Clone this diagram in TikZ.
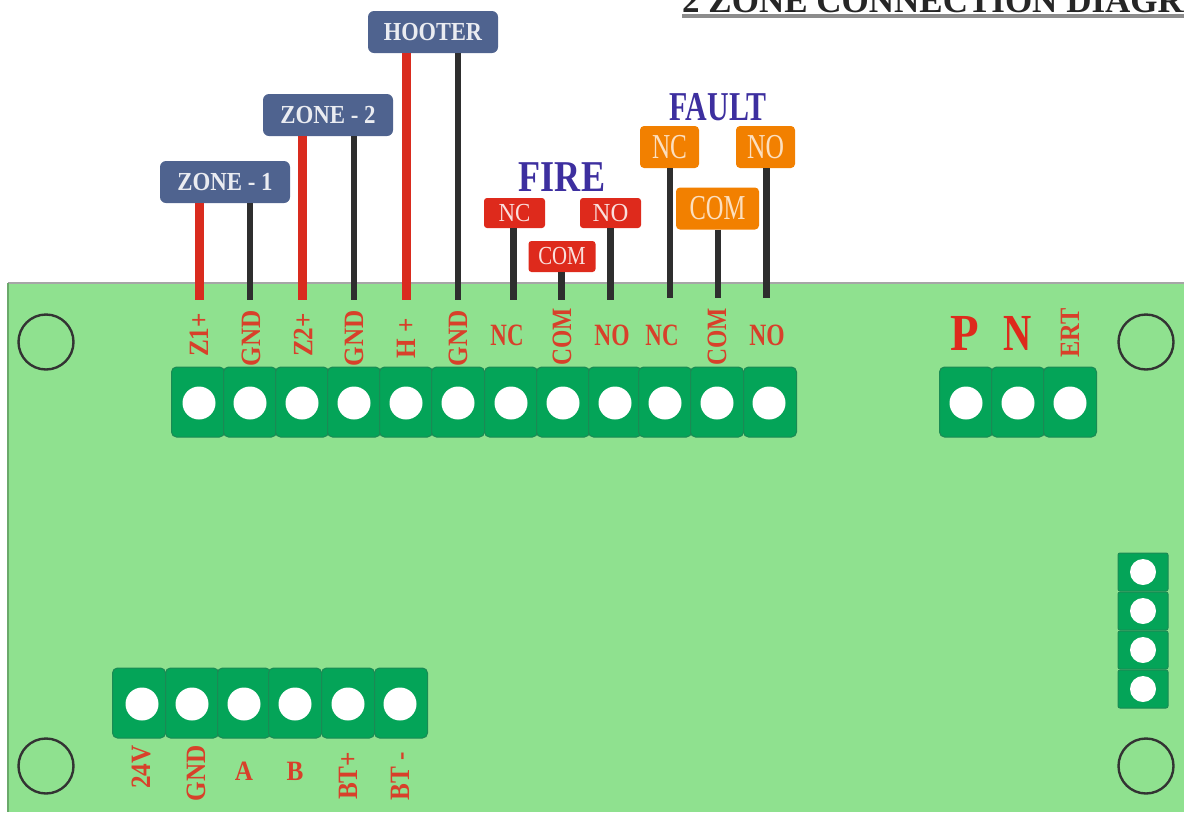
\documentclass[tikz,border=0pt]{standalone}
\usepackage{graphicx}
\usepackage{fontspec}
\setmainfont{Liberation Serif}
\definecolor{board}{HTML}{8FE18F}
\definecolor{termg}{HTML}{04A458}
\definecolor{termd}{HTML}{1B8A54}
\definecolor{slate}{HTML}{4F638F}
\definecolor{lblred}{HTML}{DE2A1C}
\definecolor{orng}{HTML}{F28000}
\definecolor{hdr}{HTML}{3D2F9F}
\definecolor{wred}{HTML}{D92B1E}
\definecolor{wdark}{HTML}{2E2E2E}
\definecolor{pcbtxt}{HTML}{D8402A}
\newcommand{\fsz}[1]{\fontsize{#1}{#1}\selectfont}
\newcommand{\sx}[2]{\scalebox{#1}[1]{#2}}
\tikzset{
  cellbox/.style={fill=termg,draw=termd,line width=1pt,rounded corners=5pt,minimum width=53pt,minimum height=70pt,inner sep=0pt},
  sidecell/.style={fill=termg,draw=termd,line width=1pt,rounded corners=2pt,minimum width=50pt,minimum height=38pt,inner sep=0pt},
  holea/.style={circle,fill=white,draw=none,minimum size=33pt,inner sep=0pt},
  holeb/.style={circle,fill=white,draw=none,minimum size=26pt,inner sep=0pt},
  mount/.style={circle,draw=black!80,line width=2.4pt,fill=none,minimum size=55pt,inner sep=0pt},
  bluelbl/.style={fill=slate,rounded corners=6pt,minimum width=130pt,minimum height=42pt,inner sep=0pt,text=white!88!slate,font=\bfseries\fsz{26}},
  redlbl/.style={fill=lblred,rounded corners=3pt,minimum width=61pt,minimum height=30pt,inner sep=0pt,text=white!85!lblred,font=\fsz{26}},
  orlbl/.style={fill=orng,rounded corners=4pt,minimum height=42pt,inner sep=0pt,text=white!75!orng,font=\fsz{35}},
  hdrtxt/.style={text=hdr,font=\bfseries\fsz{44},inner sep=0pt},
  pcb/.style={text=pcbtxt,inner sep=0pt,font=\bfseries\fsz{28}},
  pcbr/.style={pcb,rotate=90},
  wirered/.style={draw=wred,line width=9pt},
  wireblack/.style={draw=wdark,line width=6.5pt}
}
\begin{document}
\begin{tikzpicture}[x=1pt,y=-1pt]
\useasboundingbox (0,0) rectangle (1184,812);
\clip (0,0) rectangle (1184,812);
% board
\path[fill=board] (8,283) rectangle (1184,812);
\draw[black!35,line width=2pt] (8,283) -- (1184,283);
\draw[board!75!black,line width=1.5pt] (8,283) -- (8,812);
% title
\node[anchor=base west,inner sep=0pt,font=\bfseries\fsz{35},text=black!85] (title) at (682,12.5) {2 ZONE CONNECTION DIAGRAM};
\coordinate (ula) at (682,16);
\coordinate (ulb) at (1184,16);
\draw[black!45,line width=4pt] (ula) -- (ulb);
% mounting holes
\node[mount] (m1) at (46,342) {};
\node[mount] (m2) at (1146,342) {};
\node[mount] (m3) at (46,766) {};
\node[mount] (m4) at (1146,766) {};
% terminals, top row
\foreach \n/\x in {a/198,b/250,c/302,d/354,e/406,f/458,g/511,h/563,i/615,j/665,k/717,l/770}{
  \node[cellbox] (t\n) at (\x,402) {};
}
\foreach \n/\x in {a/199,b/250,c/302,d/354,e/406,f/458,g/511,h/563,i/615,j/665,k/717,l/769}{
  \node[holea] (h\n) at (\x,403) {};
}
% power
\foreach \n/\x in {p/966,q/1018,r/1070}{
  \node[cellbox] (t\n) at (\x,402) {};
  \node[holea] (h\n) at (\x,403) {};
}
% bottom row
\foreach \n/\x in {s/139,t/192,u/244,v/295,w/348,y/401}{
  \node[cellbox] (t\n) at (\x,703) {};
}
\foreach \n/\x in {s/142,t/192,u/244,v/295,w/348,y/400}{
  \node[holea] (h\n) at (\x,704) {};
}
% side
\foreach \n/\y in {1/572,2/611,3/650,4/689}{
  \node[sidecell] (sc\n) at (1143,\y) {};
  \node[holeb] (sh\n) at (1143,\y) {};
}
% labels
\node[bluelbl] (zone1) at (225,182) {\sx{0.88}{ZONE - 1}};
\node[bluelbl] (zone2) at (328,115) {\sx{0.88}{ZONE - 2}};
\node[bluelbl] (hooter) at (433,32) {\sx{0.86}{HOOTER}};
\node[hdrtxt] (fire) at (562,177) {\sx{0.82}{FIRE}};
\node[hdrtxt,font=\bfseries\fsz{41}] (fault) at (718,107) {\sx{0.73}{FAULT}};
\node[redlbl] (fnc) at (514.5,213) {\sx{0.88}{NC}};
\node[redlbl,minimum width=67pt,minimum height=31pt] (fcom) at (562,256.5) {\sx{0.8}{COM}};
\node[redlbl] (fno) at (610.5,213) {\sx{0.95}{NO}};
\node[orlbl,minimum width=59pt] (xnc) at (669.5,147) {\sx{0.72}{NC}};
\node[orlbl,minimum width=59pt] (xno) at (765.5,147) {\sx{0.73}{NO}};
\node[orlbl,minimum width=83pt] (xcom) at (717.5,208.5) {\sx{0.7}{COM}};
% wire ends
\coordinate (w1) at (199,300);
\coordinate (w2) at (250,300);
\coordinate (w3) at (302,300);
\coordinate (w4) at (354,300);
\coordinate (w5) at (406,300);
\coordinate (w6) at (458,300);
\coordinate (w7) at (513.5,300);
\coordinate (w8) at (561.5,300);
\coordinate (w9) at (610.5,300);
\coordinate (w10) at (670,298);
\coordinate (w11) at (718,298);
\coordinate (w12) at (766.5,298);
\draw[wirered] (w1 |- zone1.south) -- (w1);
\draw[wireblack] (w2 |- zone1.south) -- (w2);
\draw[wirered] (w3 |- zone2.south) -- (w3);
\draw[wireblack] (w4 |- zone2.south) -- (w4);
\draw[wirered] (w5 |- hooter.south) -- (w5);
\draw[wireblack] (w6 |- hooter.south) -- (w6);
\draw[wireblack] (w7 |- fnc.south) -- (w7);
\draw[wireblack] (w8 |- fcom.south) -- (w8);
\draw[wireblack] (w9 |- fno.south) -- (w9);
\draw[wireblack] (w10 |- xnc.south) -- (w10);
\draw[wireblack] (w11 |- xcom.south) -- (w11);
\draw[wireblack] (w12 |- xno.south) -- (w12);
% PCB text
\node[pcbr] (l1) at (199,335) {\sx{0.9}{Z1+}};
\node[pcbr] (l2) at (251,338) {\sx{0.9}{GND}};
\node[pcbr] (l3) at (303,335) {\sx{0.9}{Z2+}};
\node[pcbr] (l4) at (354,338) {\sx{0.9}{GND}};
\node[pcbr] (l5) at (406,338) {\sx{0.9}{H +}};
\node[pcbr] (l6) at (458,338) {\sx{0.9}{GND}};
\node[pcb,font=\bfseries\fsz{31}] (l7) at (507,335) {\sx{0.74}{NC}};
\node[pcbr] (l8) at (562,337) {\sx{0.84}{COM}};
\node[pcb,font=\bfseries\fsz{31}] (l9) at (612,335) {\sx{0.76}{NO}};
\node[pcb,font=\bfseries\fsz{31}] (l10) at (662,335) {\sx{0.74}{NC}};
\node[pcbr] (l11) at (717,337) {\sx{0.84}{COM}};
\node[pcb,font=\bfseries\fsz{31}] (l12) at (767,335) {\sx{0.76}{NO}};
\node[pcb,text=lblred,font=\bfseries\fsz{52}] (lp) at (965,333) {\sx{0.9}{P}};
\node[pcb,text=lblred,font=\bfseries\fsz{52}] (ln) at (1018,333) {\sx{0.75}{N}};
\node[pcbr] (lert) at (1070,333) {\sx{0.87}{ERT}};
\node[pcbr] (b1) at (141,767) {\sx{0.9}{24V}};
\node[pcbr] (b2) at (196,773) {\sx{0.9}{GND}};
\node[pcb] (b3) at (244,771) {\sx{0.9}{A}};
\node[pcb] (b4) at (295,771) {\sx{0.9}{B}};
\node[pcbr] (b5) at (348,776) {\sx{0.9}{BT+}};
\node[pcbr] (b6) at (400,776) {\sx{0.9}{BT -}};
\end{tikzpicture}
\end{document}
